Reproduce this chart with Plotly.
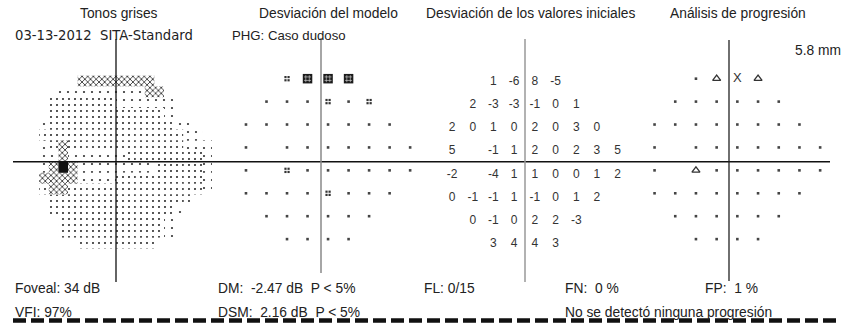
import plotly.graph_objects as go

W, H = 844, 323

# ---------------- data ----------------
ROW_Y = [21, 15, 9, 3, -3, -9, -15, -21]
ROW_X = [
    [-9, -3, 3, 9],
    [-15, -9, -3, 3, 9, 15],
    [-21, -15, -9, -3, 3, 9, 15, 21],
    [-21, -9, -3, 3, 9, 15, 21, 27],
    [-21, -9, -3, 3, 9, 15, 21, 27],
    [-21, -15, -9, -3, 3, 9, 15, 21],
    [-15, -9, -3, 3, 9, 15],
    [-9, -3, 3, 9],
]
# Desviación de los valores iniciales (dB)
TD_VALUES = [
    [1, -6, 8, -5],
    [2, -3, -3, -1, 0, 1],
    [2, 0, 1, 0, 2, 0, 3, 0],
    [5, -1, 1, 2, 0, 2, 3, 5],
    [-2, -4, 1, 1, 0, 0, 1, 2],
    [0, -1, -1, 1, -1, 0, 1, 2],
    [0, -1, 0, 2, 2, -3],
    [3, 4, 4, 3],
]
# Desviación del modelo: n = normal, 5 = P<5%, 1 = P<1%
PD_CODES = [
    "5111",
    "nnn5n5",
    "nnnnnnnn",
    "nnnnnnnn",
    "n5nnnnnn",
    "nnnn5nnn",
    "nnnnnn",
    "nnnn",
]
# Análisis de progresión: n = sin cambio, t = deterioro, X = fuera de rango
PROG_CODES = [
    "ntXt",
    "nnnnnn",
    "nnnnnnnn",
    "nnnnnnnn",
    "ntnnnnnn",
    "nnnnnnnn",
    "nnnnnn",
    "nnnn",
]
# Tonos grises, 3-degree cells from x=-24 (left) and y=+24 (top)
# ' ' none, ':' light, '.' normal, 'x' dark, '#' black
GRAY_MAP = [
    "    xxxxxxxx      ",
    "  :::::::::xx     ",
    " .......::::::    ",
    " ............:    ",
    ":.............::  ",
    "...............:: ",
    ":.x............:::",
    "::x::::::........:",
    ":x#x::::::::.....:",
    "xxxx::::.........:",
    ".xx..............:",
    " ...............  ",
    " .............:   ",
    "  ...........:    ",
    "  ...........:    ",
    "    ........      ",
]
GRAY_X0, GRAY_Y0, GRAY_STEP = -24, 24, 3

TITLES = ["Tonos grises", "Desviación del modelo",
          "Desviación de los valores iniciales", "Análisis de progresión"]

# ---------------- layout helpers ----------------
FONT = "Liberation Sans, Arial, sans-serif"
TXT = "#222222"

PANELS = {
    "gray": dict(cx=116.0, cy=162.0, sx=3.2, sy=3.6, ax=""),
    "pd": dict(cx=317.8, cy=158.9, sx=3.42, sy=3.82, ax="2"),
    "td": dict(cx=524.5, cy=163.0, sx=3.45, sy=3.85, ax="3"),
    "prog": dict(cx=727.0, cy=158.9, sx=3.45, sy=3.82, ax="4"),
}

fig = go.Figure()

layout_axes = {}
for name, p in PANELS.items():
    xr = [-p["cx"] / p["sx"], (W - p["cx"]) / p["sx"]]
    yr = [-(H - p["cy"]) / p["sy"], p["cy"] / p["sy"]]
    xa = dict(domain=[0, 1], range=xr, visible=False, fixedrange=True,
              anchor="y" + p["ax"])
    ya = dict(domain=[0, 1], range=yr, visible=False, fixedrange=True,
              anchor="x" + p["ax"])
    if p["ax"]:
        xa["overlaying"] = "x"
        ya["overlaying"] = "y"
    layout_axes["xaxis" + p["ax"]] = xa
    layout_axes["yaxis" + p["ax"]] = ya


def axes(name):
    a = PANELS[name]["ax"]
    return dict(xaxis="x" + a, yaxis="y" + a)


def flat(rows_vals):
    xs, ys, vs = [], [], []
    for yv, xrow, vrow in zip(ROW_Y, ROW_X, rows_vals):
        for xv, v in zip(xrow, vrow):
            xs.append(xv)
            ys.append(yv)
            vs.append(v)
    return xs, ys, vs


def select(xs, ys, codes, key):
    return ([x for x, c in zip(xs, codes) if c == key],
            [y for y, c in zip(ys, codes) if c == key])


# ---------------- gray tone map ----------------
GRAY_STYLES = {
    ":": dict(color="white", pattern=dict(shape=".", size=8, solidity=0.06,
                                          fgcolor="#333333", bgcolor="white", fillmode="replace")),
    ".": dict(color="white", pattern=dict(shape=".", size=6, solidity=0.095,
                                          fgcolor="#2a2a2a", bgcolor="white", fillmode="replace")),
    "x": dict(color="white", pattern=dict(shape="x", size=4, solidity=0.4,
                                          fgcolor="#3a3a3a", bgcolor="white", fillmode="replace")),
    "#": dict(color="#111111"),
}
for ch, style in GRAY_STYLES.items():
    xs, bs = [], []
    for r, row in enumerate(GRAY_MAP):
        for c, k in enumerate(row):
            if k == ch:
                xs.append(GRAY_X0 + GRAY_STEP * c + GRAY_STEP / 2)
                bs.append(GRAY_Y0 - GRAY_STEP * (r + 1))
    marker = dict(line=dict(width=0), **style)
    fig.add_trace(go.Bar(x=xs, y=[GRAY_STEP] * len(xs), base=bs, width=GRAY_STEP,
                         marker=marker, opacity=1, hoverinfo="skip",
                         showlegend=False, **axes("gray")))

# ---------------- pattern deviation ----------------
px_, py_, pc_ = flat(PD_CODES)
nx, ny = select(px_, py_, pc_, "n")
fig.add_trace(go.Scatter(x=nx, y=ny, mode="markers",
                         marker=dict(symbol="square", size=2.6, color="#444444"),
                         showlegend=False, hoverinfo="skip", **axes("pd")))
# P<5%: four small dots around each location
fx, fy = select(px_, py_, pc_, "5")
dx, dy = 0.45, 0.42
qx, qy = [], []
for x, y in zip(fx, fy):
    for ox in (-dx, dx):
        for oy in (-dy, dy):
            qx.append(x + ox)
            qy.append(y + oy)
fig.add_trace(go.Scatter(x=qx, y=qy, mode="markers",
                         marker=dict(symbol="square", size=2.2, color="#333333"),
                         showlegend=False, hoverinfo="skip", **axes("pd")))
# P<1%: dark checkered block
ox_, oy_ = select(px_, py_, pc_, "1")
fig.add_trace(go.Scatter(x=ox_, y=oy_, mode="markers",
                         marker=dict(symbol="square", size=9.5, color="#1c1c1c",
                                     line=dict(width=0)),
                         showlegend=False, hoverinfo="skip", **axes("pd")))
fig.add_trace(go.Scatter(x=ox_, y=oy_, mode="markers",
                         marker=dict(symbol="hash-open", size=7, color="#dddddd",
                                     line=dict(width=0.6, color="#dddddd")),
                         showlegend=False, hoverinfo="skip", **axes("pd")))

# ---------------- total deviation values ----------------
tx, ty, tv = flat(TD_VALUES)
fig.add_trace(go.Scatter(x=tx, y=ty, mode="text", text=[str(v) for v in tv],
                         textposition="middle center",
                         textfont=dict(family=FONT, size=12, color="#333333"),
                         showlegend=False, hoverinfo="skip", **axes("td")))

# ---------------- progression ----------------
px_, py_, gc_ = flat(PROG_CODES)
nx, ny = select(px_, py_, gc_, "n")
fig.add_trace(go.Scatter(x=nx, y=ny, mode="markers",
                         marker=dict(symbol="square", size=2.6, color="#444444"),
                         showlegend=False, hoverinfo="skip", **axes("prog")))
tx2, ty2 = select(px_, py_, gc_, "t")
fig.add_trace(go.Scatter(x=tx2, y=ty2, mode="markers",
                         marker=dict(symbol="triangle-up-open", size=7, color="#333333",
                                     line=dict(width=1.3, color="#333333")),
                         showlegend=False, hoverinfo="skip", **axes("prog")))
xx, xy = select(px_, py_, gc_, "X")
fig.add_trace(go.Scatter(x=xx, y=xy, mode="text", text=["X"] * len(xx),
                         textfont=dict(family=FONT, size=13, color="#333333"),
                         showlegend=False, hoverinfo="skip", **axes("prog")))

# ---------------- lines ----------------
def px2paper(x, y):
    return x / W, 1 - y / H

shapes = []
def hline(x0, x1, y, color, width, dash=None):
    a = px2paper(x0, y); b = px2paper(x1, y)
    ln = dict(color=color, width=width)
    if dash:
        ln["dash"] = dash
    shapes.append(dict(type="line", xref="paper", yref="paper",
                       x0=a[0], y0=a[1], x1=b[0], y1=b[1], line=ln))

def vline(x, y0, y1, color, width):
    a = px2paper(x, y0); b = px2paper(x, y1)
    shapes.append(dict(type="line", xref="paper", yref="paper",
                       x0=a[0], y0=a[1], x1=b[0], y1=b[1],
                       line=dict(color=color, width=width)))

hline(13, 830, 161.8, "#111111", 1.6)
vline(116, 39, 282, "#111111", 1.3)
vline(321, 38, 273, "#888888", 1.5)
vline(525, 39, 282, "#999999", 1.5)
vline(729, 40, 281, "#222222", 1.3)
hline(13, 838, 320.5, "#111111", 4.5, dash="13px,5px")

# ---------------- texts ----------------
ann = []
def text(x, y, s, anchor="left", size=13.8, family=FONT):
    xp, yp = px2paper(x, y)
    ann.append(dict(x=xp, y=yp, xref="paper", yref="paper", text=s,
                    showarrow=False, xanchor=anchor, yanchor="middle",
                    font=dict(family=family, size=size, color=TXT)))

text(119, 13, TITLES[0], "center")
text(328, 13, TITLES[1], "center")
text(530, 13, TITLES[2], "center")
text(737.5, 13, TITLES[3], "center")
text(13, 35, "03-13-2012  SITA-Standard", "left", 13.2, "DejaVu Sans, " + FONT)
text(230, 35, "PHG: Caso dudoso", "left", 13.2)
text(843, 50, "5.8 mm", "right", 13.8)
text(13, 288, "Foveal: 34 dB")
text(13, 312, "VFI: 97%")
text(216, 288, "DM:\u00a0 -2.47 dB\u00a0 P < 5%")
text(216, 312, "DSM:\u00a0 2.16 dB\u00a0 P < 5%")
text(422, 288, "FL: 0/15")
text(563, 288, "FN:\u00a0 0 %")
text(703, 288, "FP:\u00a0 1 %")
text(563, 312, "No se detectó ninguna progresión")

fig.update_layout(width=W, height=H, margin=dict(l=0, r=0, t=0, b=0),
                  paper_bgcolor="white", plot_bgcolor="white",
                  barmode="overlay", showlegend=False,
                  shapes=shapes, annotations=ann, **layout_axes)

fig.write_html("out.html", config={"displayModeBar": False},
               post_script="document.body.style.margin='0';document.body.style.padding='0';")
